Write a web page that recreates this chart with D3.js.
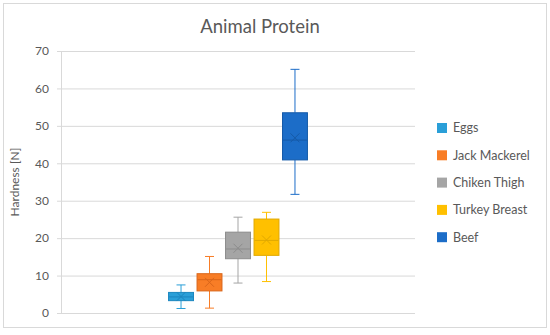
<!DOCTYPE html>
<html>
<head>
<meta charset="utf-8">
<script src="https://cdn.jsdelivr.net/npm/d3@7"></script>
<style>
  body { margin: 0; background: #fff; }
  svg { display: block; font-family: Lato, "Open Sans", sans-serif; }
</style>
</head>
<body>
<div id="chart"></div>
<script>
// box & whisker values
const series = ["Eggs", "Jack Mackerel", "Chiken Thigh", "Turkey Breast", "Beef"]
const minVals = [1.2, 1.3, 8.0, 8.4, 31.7]
const q1Vals = [3.3, 5.9, 14.5, 15.4, 40.9]
const medianVals = [4.3, 8.9, 17.1, 19.4, 46.2]
const q3Vals = [5.5, 10.5, 21.6, 25.1, 53.5]
const maxVals = [7.5, 15.1, 25.6, 26.9, 65.1]
const meanVals = [4.4, 8.2, 17.3, 19.5, 46.8]
const yTicks = [0, 10, 20, 30, 40, 50, 60, 70]

const fills = ["#2a9fd8", "#f87d26", "#a5a5a5", "#ffc000", "#1c6dc8"]
const strokes = ["#1b86bf", "#d9651a", "#8c8c8c", "#e0a800", "#155aa8"]

const width = 550, height = 335
const margin = { top: 51, right: 135, bottom: 22, left: 61 }

const svg = d3.select("#chart").append("svg")
  .attr("width", width)
  .attr("height", height)

// outer frame
svg.append("rect")
  .attr("x", 3.5).attr("y", 3.5)
  .attr("width", 543).attr("height", 324)
  .attr("fill", "#fff")
  .attr("stroke", "#d9d9d9")

svg.append("text")
  .attr("x", 260).attr("y", 33)
  .attr("text-anchor", "middle")
  .attr("font-size", 18.5)
  .attr("fill", "#595959")
  .text("Animal Protein")

const y = d3.scaleLinear().domain([0, 70]).range([height - margin.bottom, margin.top])
const x0 = d3.scaleBand().domain([""]).range([margin.left, width - margin.right]).paddingOuter(0.745)
const x1 = d3.scaleBand().domain(series).range([0, x0.bandwidth()]).paddingInner(0.09).paddingOuter(0.04)

//gridlines with the little ticks poking out left of the axis
const yAxis = d3.axisLeft(y)
  .tickValues(yTicks)
  .tickSize(-(width - margin.right - margin.left) - 4)
  .tickPadding(8)
svg.append("g")
  .attr("transform", `translate(${margin.left - 4},0)`)
  .call(yAxis)
  .call(g => g.select(".domain").remove())
  .call(g => g.selectAll(".tick line").attr("stroke", "#d9d9d9"))
  .call(g => g.selectAll(".tick text").attr("fill", "#595959").attr("font-size", 12).attr("font-family", "Lato, sans-serif"))

svg.append("line")
  .attr("x1", margin.left + 0.5).attr("x2", margin.left + 0.5)
  .attr("y1", y(70)).attr("y2", y(0))
  .attr("stroke", "#d9d9d9")

svg.append("text")
  .attr("transform", `translate(19,${(y(0) + y(70)) / 2}) rotate(-90)`)
  .attr("text-anchor", "middle")
  .attr("font-size", 12)
  .attr("fill", "#595959")
  .text("Hardness [N]")

const boxes = series.map((name, i) => ({
  name, i,
  min: minVals[i], q1: q1Vals[i], med: medianVals[i],
  q3: q3Vals[i], max: maxVals[i], mean: meanVals[i]
}))

const g = svg.append("g")
  .selectAll("g")
  .data(boxes)
  .join("g")
  .attr("transform", d => `translate(${x0("") + x1(d.name)},0)`)

const bw = x1.bandwidth()
const cx = bw / 2
const cap = 4.5

// whiskers
g.append("line")
  .attr("x1", cx).attr("x2", cx)
  .attr("y1", d => y(d.max)).attr("y2", d => y(d.q3))
  .attr("stroke", d => fills[d.i])
g.append("line")
  .attr("x1", cx).attr("x2", cx)
  .attr("y1", d => y(d.q1)).attr("y2", d => y(d.min))
  .attr("stroke", d => fills[d.i])
g.append("line")
  .attr("x1", cx - cap).attr("x2", cx + cap)
  .attr("y1", d => y(d.max)).attr("y2", d => y(d.max))
  .attr("stroke", d => fills[d.i])
g.append("line")
  .attr("x1", cx - cap).attr("x2", cx + cap)
  .attr("y1", d => y(d.min)).attr("y2", d => y(d.min))
  .attr("stroke", d => fills[d.i])

g.append("rect")
  .attr("x", 0.5)
  .attr("width", bw - 1)
  .attr("y", d => y(d.q3))
  .attr("height", d => y(d.q1) - y(d.q3))
  .attr("fill", d => fills[d.i])
  .attr("stroke", d => strokes[d.i])

g.append("line")
  .attr("x1", 1).attr("x2", bw - 1)
  .attr("y1", d => y(d.med)).attr("y2", d => y(d.med))
  .attr("stroke", d => strokes[d.i])

// mean marker (x)
const m = 4.5
g.append("path")
  .attr("d", d => {
    const my = y(d.mean)
    return `M${cx - m},${my - m}L${cx + m},${my + m}M${cx - m},${my + m}L${cx + m},${my - m}`
  })
  .attr("stroke", d => strokes[d.i])
  .attr("fill", "none")

// legend
const legend = svg.append("g")
  .selectAll("g")
  .data(series)
  .join("g")
  .attr("transform", (d, i) => `translate(437,${128 + i * 27.3})`)
legend.append("rect")
  .attr("y", -5).attr("width", 10).attr("height", 10)
  .attr("fill", (d, i) => fills[i])
legend.append("text")
  .attr("x", 16)
  .attr("dy", "0.35em")
  .attr("font-size", 12.5)
  .attr("fill", "#595959")
  .text(d => d)
</script>
</body>
</html>
